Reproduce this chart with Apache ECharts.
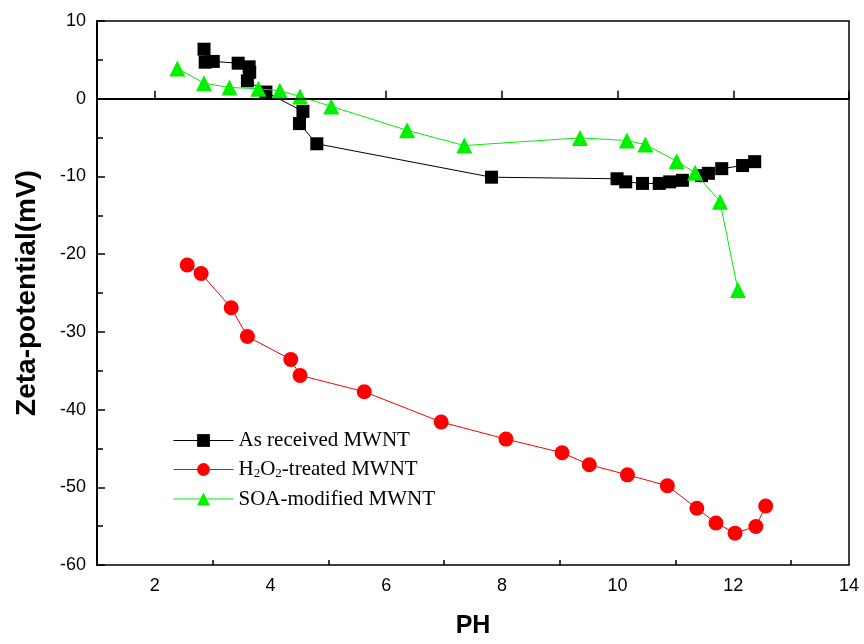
<!DOCTYPE html>
<html>
<head>
<meta charset="utf-8">
<script src="https://cdn.jsdelivr.net/npm/echarts@6/dist/echarts.min.js"></script>
<style>
  html, body { margin: 0; padding: 0; background: #fff; }
  #main { width: 864px; height: 644px; }
</style>
</head>
<body>
<div id="main"></div>
<script>
// pH values and zeta potentials
var asRecX = [2.85, 2.87, 3.01, 3.44, 3.63, 3.64, 3.6, 3.92, 4.56, 4.5, 4.8, 7.82, 9.99, 10.14, 10.43, 10.72, 10.9, 11.12, 11.45, 11.57, 11.8, 12.16, 12.37];
var asRecY = [6.37, 4.7, 4.8, 4.57, 4.1, 3.4, 2.3, 0.86, -1.63, -3.2, -5.8, -10.1, -10.3, -10.7, -10.9, -10.9, -10.7, -10.5, -9.9, -9.6, -9.0, -8.6, -8.1];

var h2o2X = [2.56, 2.8, 3.32, 3.6, 4.35, 4.51, 5.62, 6.95, 8.07, 9.04, 9.51, 10.17, 10.86, 11.37, 11.7, 12.03, 12.39, 12.56];
var h2o2Y = [-21.4, -22.5, -26.9, -30.6, -33.55, -35.6, -37.7, -41.6, -43.8, -45.55, -47.1, -48.4, -49.8, -52.7, -54.6, -55.9, -55.04, -52.4];

var soaX = [2.39, 2.85, 3.29, 3.79, 4.16, 4.51, 5.05, 6.36, 7.35, 9.35, 10.16, 10.48, 11.02, 11.34, 11.77, 12.08];
var soaY = [3.9, 2.0, 1.45, 1.28, 1.03, 0.3, -0.99, -4.06, -6.03, -5.04, -5.38, -5.9, -8.04, -9.53, -13.25, -24.6];

var xMajor = [2, 4, 6, 8, 10, 12, 14];
var xMinor = [3, 5, 7, 9, 11, 13];
var names = ['As received MWNT', 'H2O2-treated MWNT', 'SOA-modified MWNT'];

function pairs(xs, ys) {
    return xs.map(function (x, i) { return [x, ys[i]]; });
}

var myChart = echarts.init(document.getElementById('main'));
var option = {
    animation: false,
    backgroundColor: '#fff',
    grid: {
        left: 97, right: 15, top: 21, bottom: 77,
        show: true, borderColor: '#000', borderWidth: 1.5,
        containLabel: false
    },
    legend: {
        orient: 'vertical',
        left: 168,
        top: 425,
        itemWidth: 60,
        itemHeight: 16,
        itemGap: 8,
        data: names,
        lineStyle: { width: 1 },
        formatter: function (n) {
            if (n === 'H2O2-treated MWNT') {
                return 'H{sub|2}O{sub|2}-treated MWNT';
            }
            return n;
        },
        textStyle: {
            fontFamily: 'Liberation Serif',
            fontSize: 21,
            color: '#000',
            rich: {
                sub: { fontFamily: 'Liberation Serif', fontSize: 13, color: '#000', verticalAlign: 'bottom', padding: [9, 0, 0, 0] }
            }
        }
    },
    xAxis: [
        {
            type: 'value',
            min: 1, max: 14, interval: 1,
            name: 'PH',
            nameLocation: 'middle',
            nameGap: 49,
            nameTextStyle: { fontFamily: 'Liberation Sans', fontWeight: 'bold', fontSize: 25, color: '#000' },
            axisLine: { show: true, lineStyle: { color: '#000', width: 2 } },
            axisTick: { inside: true, length: 8, customValues: xMajor, lineStyle: { color: '#000', width: 1.5 } },
            axisLabel: { customValues: xMajor, margin: 12, fontFamily: 'Liberation Sans', fontSize: 18, color: '#000' },
            splitLine: { show: false }
        },
        {
            type: 'value',
            position: 'bottom',
            min: 1, max: 14, interval: 1,
            axisLine: { show: false },
            axisTick: { inside: true, length: 5, customValues: xMinor, lineStyle: { color: '#000', width: 1.5 } },
            axisLabel: { show: false },
            splitLine: { show: false }
        }
    ],
    yAxis: {
        type: 'value',
        min: -60, max: 10, interval: 10,
        name: 'Zeta-potential(mV)',
        nameLocation: 'middle',
        nameGap: 56,
        nameTextStyle: { fontFamily: 'Liberation Sans', fontWeight: 'bold', fontSize: 28, color: '#000' },
        axisLine: { show: true, lineStyle: { color: '#000', width: 2 } },
        axisTick: { inside: true, length: 8, lineStyle: { color: '#000', width: 1.5 } },
        minorTick: { show: true, splitNumber: 2, length: 6, lineStyle: { color: '#000', width: 1.5 } },
        axisLabel: { margin: 11, fontFamily: 'Liberation Sans', fontSize: 18, color: '#000' },
        splitLine: { show: false }
    },
    series: [
        {
            name: names[0],
            type: 'line',
            data: pairs(asRecX, asRecY),
            symbol: 'rect',
            symbolSize: 13,
            itemStyle: { color: '#000' },
            lineStyle: { color: '#000', width: 1 },
            z: 3,
            markLine: {
                silent: true,
                symbol: 'none',
                label: { show: false },
                lineStyle: { color: '#000', width: 1.5, type: 'solid' },
                data: [{ yAxis: 0 }]
            }
        },
        {
            name: names[1],
            type: 'line',
            data: pairs(h2o2X, h2o2Y),
            symbol: 'circle',
            symbolSize: 15,
            itemStyle: { color: '#ff0000' },
            lineStyle: { color: '#ff0000', width: 1 }
        },
        {
            name: names[2],
            type: 'line',
            data: pairs(soaX, soaY),
            symbol: 'triangle',
            symbolSize: 16,
            itemStyle: { color: '#00f000' },
            lineStyle: { color: '#00f000', width: 1 },
            z: 4
        }
    ]
};
myChart.setOption(option);
</script>
</body>
</html>
